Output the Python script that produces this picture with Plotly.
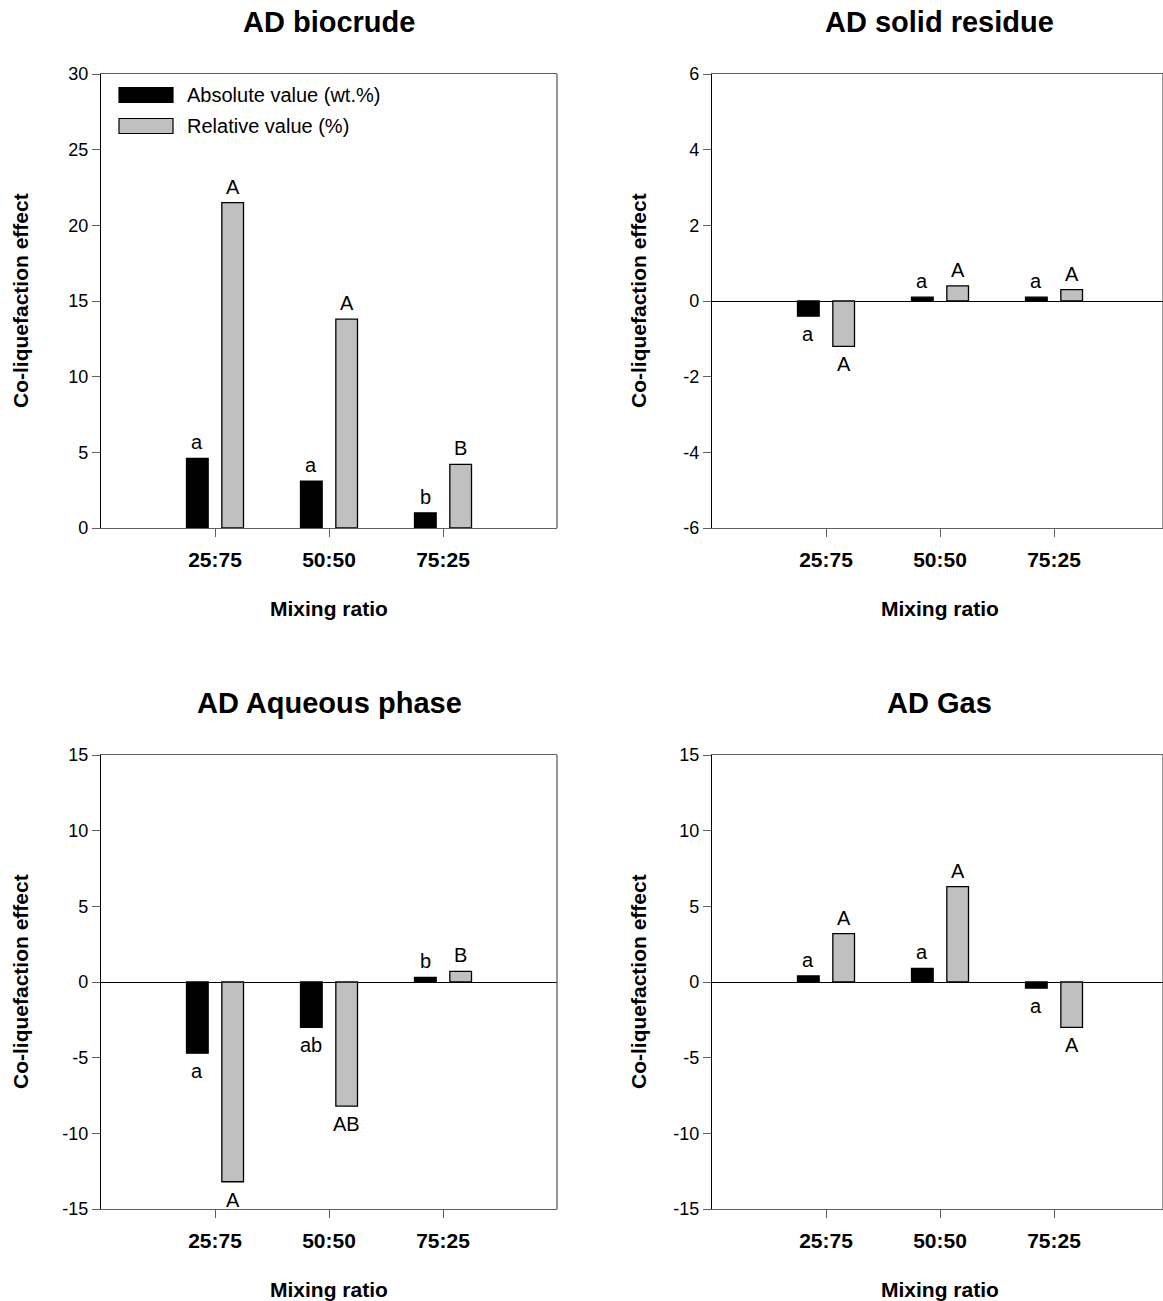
import plotly.graph_objects as go
import numpy as np

categories = ["25:75", "50:50", "75:25"]
panel_titles = ["AD biocrude", "AD solid residue", "AD Aqueous phase", "AD Gas"]
series_names = ["Absolute value (wt.%)", "Relative value (%)"]

biocrude_abs = [4.6, 3.1, 1.0]
biocrude_rel = [21.5, 13.8, 4.2]
solid_abs = [-0.4, 0.1, 0.1]
solid_rel = [-1.2, 0.4, 0.3]
aqueous_abs = [-4.7, -3.0, 0.3]
aqueous_rel = [-13.2, -8.2, 0.7]
gas_abs = [0.4, 0.9, -0.4]
gas_rel = [3.2, 6.3, -3.0]

biocrude_abs_letters = ["a", "a", "b"]
biocrude_rel_letters = ["A", "A", "B"]
solid_abs_letters = ["a", "a", "a"]
solid_rel_letters = ["A", "A", "A"]
aqueous_abs_letters = ["a", "ab", "b"]
aqueous_rel_letters = ["A", "AB", "B"]
gas_abs_letters = ["a", "a", "a"]
gas_rel_letters = ["A", "A", "A"]

y_ranges = [[0, 30], [-6, 6], [-15, 15], [-15, 15]]
y_dticks = [5, 2, 5, 5]

W, H = 1163, 1301
FONT = "Arial, Liberation Sans, sans-serif"

panels = [
    (biocrude_abs, biocrude_rel, biocrude_abs_letters, biocrude_rel_letters),
    (solid_abs, solid_rel, solid_abs_letters, solid_rel_letters),
    (aqueous_abs, aqueous_rel, aqueous_abs_letters, aqueous_rel_letters),
    (gas_abs, gas_rel, gas_abs_letters, gas_rel_letters),
]

# pixel geometry of plot areas
col_px = [(101, 557), (712, 1163)]
row_px = [(74, 528), (755, 1209)]
PW = 557 - 101
PH = 528 - 74
px_per_unit = PW / 4.0
ytitle_px = [20, 638]

fig = go.Figure()
xpos = np.arange(1, len(categories) + 1)
bar_w = 0.19
offsets = [-0.25, 0.06]
colors = ["#000000", "#c0c0c0"]

annotations = []
shapes = []
for i, (abs_v, rel_v, abs_l, rel_l) in enumerate(panels):
    r, c = divmod(i, 2)
    ax = "" if i == 0 else str(i + 1)
    xa, ya = "x" + ax, "y" + ax
    for s, (vals, lets) in enumerate([(abs_v, abs_l), (rel_v, rel_l)]):
        fig.add_trace(go.Bar(
            x=xpos, y=vals, width=bar_w, offset=offsets[s],
            marker=dict(color=colors[s], line=dict(color="#000000", width=1.3)),
            name=series_names[s], showlegend=False,
            xaxis=xa, yaxis=ya,
        ))
        for xv, yv, t in zip(xpos, vals, lets):
            annotations.append(dict(
                x=xv + offsets[s] + bar_w / 2, y=yv, xref=xa, yref=ya, text=t,
                showarrow=False, font=dict(family=FONT, size=20, color="#000"),
                xanchor="center",
                yanchor="bottom" if yv >= 0 else "top",
                yshift=3 if yv >= 0 else -5,
            ))
    x0, x1 = col_px[c]
    y0, y1 = row_px[r]
    xr = [0, (x1 - x0) / px_per_unit]
    lo, hi = y_ranges[i]
    tv = list(np.arange(lo, hi + y_dticks[i] / 2, y_dticks[i]))
    tt = [str(int(v)) for v in tv]  # plain hyphen-minus as in the reference
    common_x = dict(
        domain=[x0 / W, x1 / W], range=xr, tickvals=list(xpos), ticktext=categories,
        tickfont=dict(family=FONT, size=21, color="#000", weight="bold"),
        showline=True, linecolor="#606060", linewidth=1.3, mirror=True,
        ticks="outside", ticklen=8, tickcolor="#606060", showgrid=False,
        zeroline=False, anchor=ya, ticklabelstandoff=5, automargin=False,
    )
    common_y = dict(
        domain=[1 - y1 / H, 1 - y0 / H], range=y_ranges[i],
        tickvals=tv, ticktext=tt,
        tickfont=dict(family=FONT, size=18, color="#000"),
        showline=True, linecolor="#000", linewidth=1.3,
        ticks="outside", ticklen=8, tickcolor="#606060", showgrid=False,
        zeroline=True, zerolinecolor="#000", zerolinewidth=1.3, anchor=xa,
        automargin=False,
    )
    fig.update_layout({("xaxis" + ax): common_x, ("yaxis" + ax): common_y})
    # right border (gray)
    shapes.append(dict(type="line", xref=xa + " domain", yref=ya + " domain",
                       x0=1, x1=1, y0=0, y1=1,
                       line=dict(color="#606060", width=1.3)))
    cx = (x0 + PW / 2) / W
    # panel title
    annotations.append(dict(
        x=cx, y=1 - (y0 - 52) / H, xref="paper", yref="paper",
        text="<b>" + panel_titles[i] + "</b>", showarrow=False,
        font=dict(family=FONT, size=29, color="#000"),
        xanchor="center", yanchor="middle",
    ))
    # x-axis title
    annotations.append(dict(
        x=cx, y=1 - (y1 + 80) / H, xref="paper", yref="paper",
        text="<b>Mixing ratio</b>", showarrow=False,
        font=dict(family=FONT, size=21, color="#000"),
        xanchor="center", yanchor="middle",
    ))
    # y-axis title
    annotations.append(dict(
        x=ytitle_px[c] / W, y=1 - ((y0 + y1) / 2) / H, xref="paper", yref="paper",
        text="<b>Co-liquefaction effect</b>", showarrow=False, textangle=-90,
        font=dict(family=FONT, size=21, color="#000"),
        xanchor="center", yanchor="middle",
    ))

# legend drawn inside the first panel (swatch rectangles + labels)
leg_rows_px = [95, 126]
for s in range(2):
    cy = leg_rows_px[s]
    shapes.append(dict(
        type="rect", xref="x domain", yref="y domain",
        x0=(119 - 101) / PW, x1=(173 - 101) / PW,
        y0=(528 - (cy + 7.5)) / PH, y1=(528 - (cy - 7.5)) / PH,
        fillcolor=colors[s], line=dict(color="#000", width=1.2),
    ))
    annotations.append(dict(
        x=(185 - 101) / PW, y=(528 - cy) / PH, xref="x domain", yref="y domain",
        text=series_names[s], showarrow=False,
        font=dict(family=FONT, size=20, color="#000"),
        xanchor="left", yanchor="middle",
    ))

fig.update_layout(
    width=W, height=H, margin=dict(l=0, r=0, t=0, b=0, autoexpand=False),
    paper_bgcolor="white", plot_bgcolor="white",
    barmode="overlay", showlegend=False,
    font=dict(family=FONT, color="#000"),
    annotations=annotations, shapes=shapes,
)

fig.write_html("out.html")
